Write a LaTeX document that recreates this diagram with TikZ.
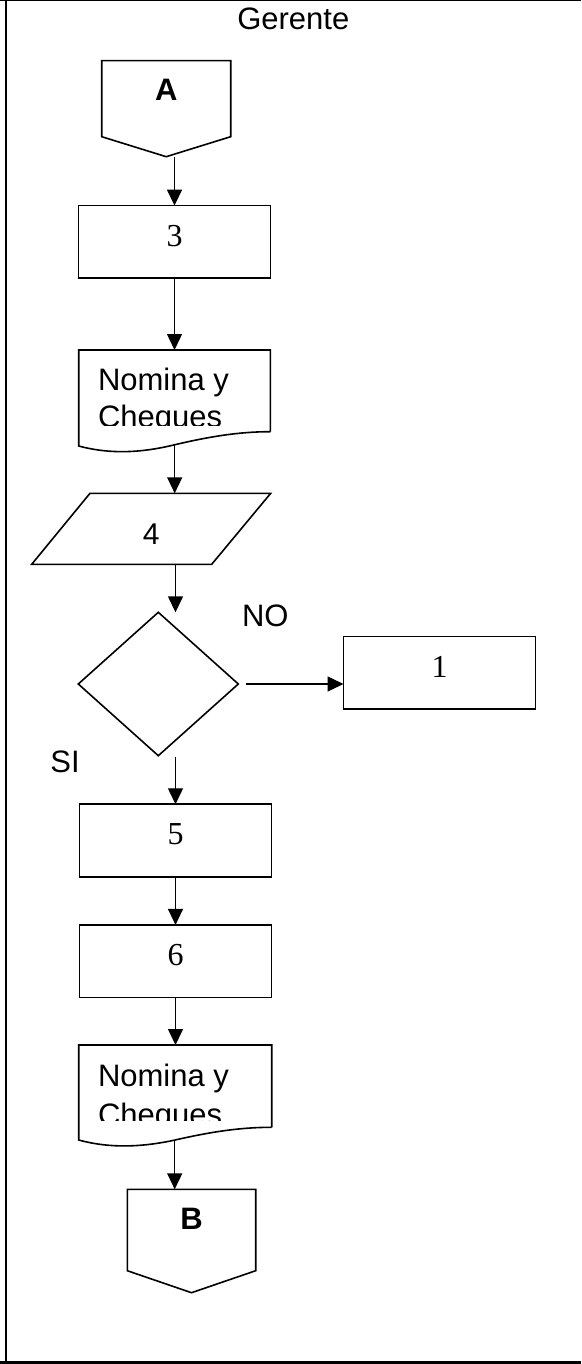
\documentclass[tikz,border=0pt]{standalone}
\usepackage{fontspec}
\setmainfont{Liberation Serif}
\newfontfamily\arialf{Liberation Sans}
\usetikzlibrary{arrows.meta,calc}
\begin{document}
\begin{tikzpicture}[x=1pt,y=-1pt,
  shp/.style={draw=none, inner sep=0pt, outer sep=0pt},
  outline/.style={line width=1.6pt, line join=miter},
  arr/.style={line width=1.4pt, -{Triangle[length=16pt,width=15pt]}},
  procbox/.style={draw, line width=1.7pt, minimum width=192pt, minimum height=72.5pt,
    inner sep=0pt, outer sep=0pt, font=\fontsize{32}{36}\selectfont, text depth=12pt},
  sanslbl/.style={inner sep=0pt, outer sep=0pt, font=\arialf\fontsize{31}{36}\selectfont},
  conn/.style={shp, font=\arialf\bfseries\fontsize{31}{36}\selectfont}
]
\useasboundingbox (0,0) rectangle (581,1364);
\fill[white] (0,0) rectangle (581,1364);

% frame
\draw[line width=1.2pt] (0,0.6) -- (581,0.6);
\draw[line width=2.2pt] (6.2,0) -- (6.2,1364);
\draw[line width=2.6pt] (0,1362.7) -- (581,1362.7);

% title
\node[sanslbl] (ger) at (293.3,18.8) {Gerente};

% connector A
\node[conn, minimum width=129pt, minimum height=76pt, text depth=17.4pt] (A) at (166.2,98.7) {A};
\draw[outline] (A.north west) -- (A.north east) -- (A.south east) -- ($(A.south)+(0,20)$) coordinate (Atip) -- (A.south west) -- cycle;

% box 3
\node[procbox] (b3) at (174.5,241.85) {3};

% document 1
\node[shp, minimum width=191.6pt, minimum height=81.7pt] (D1) at (174.5,390.85) {};
\draw[outline] (D1.south east) -- (D1.north east) -- (D1.north west) -- ($(D1.south west)+(0,14.3)$)
  .. controls ($(D1.south west)+(25,21)$) and ($(D1.south west)+(55,23)$) .. ($(D1.south west)+(95,13.3)$)
  .. controls ($(D1.south west)+(130,5)$) and ($(D1.south west)+(160,0)$) .. (D1.south east);
\coordinate (D1w) at ($(D1.south west)+(96,13.3)$);
\node[sanslbl, anchor=base west] (D1a) at (98,390) {Nomina y};
\begin{scope}
  \clip (D1.north west) rectangle ($(D1.north east)+(0,75)$);
  \node[sanslbl, anchor=base west] (D1b) at (98,427.7) {Cheques};
\end{scope}

% parallelogram 4
\node[shp, minimum width=239pt, minimum height=71pt, font=\arialf\fontsize{30}{36}\selectfont, text height=31.5pt] (P) at (151.2,528.8) {4};
\draw[outline] ($(P.north west)+(58.3,0)$) -- (P.north east) -- ($(P.south east)+(-59,0)$) -- (P.south west) -- cycle;

% decision
\node[shp, minimum width=160pt, minimum height=143.4pt] (Dm) at (158.3,684) {};
\draw[outline] (Dm.north) -- (Dm.east) -- (Dm.south) -- (Dm.west) -- cycle;
\node[sanslbl] (no) at (265.3,615.8) {NO};
\node[sanslbl] (si) at (65,762.2) {SI};

% box 1
\node[procbox] (b1) at (439.5,672.85) {1};

% boxes 5, 6
\node[procbox] (b5) at (175.5,840.5) {5};
\node[procbox] (b6) at (175.5,961.15) {6};

% document 2
\node[shp, minimum width=193pt, minimum height=82.3pt] (D2) at (175.2,1086.15) {};
\draw[outline] (D2.south east) -- (D2.north east) -- (D2.north west) -- ($(D2.south west)+(0,12.7)$)
  .. controls ($(D2.south west)+(25,19.5)$) and ($(D2.south west)+(55,21.5)$) .. ($(D2.south west)+(95,13)$)
  .. controls ($(D2.south west)+(130,5)$) and ($(D2.south west)+(160,0)$) .. (D2.south east);
\coordinate (D2w) at ($(D2.south west)+(96,13)$);
\node[sanslbl, anchor=base west] (D2a) at (98,1086.7) {Nomina y};
\begin{scope}
  \clip (D2.north west) rectangle ($(D2.north east)+(0,75)$);
  \node[sanslbl, anchor=base west] (D2b) at (98,1125) {Cheques};
\end{scope}

% connector B
\node[conn, minimum width=128.4pt, minimum height=81.4pt, text depth=21.6pt] (B) at (191.5,1230) {B};
\draw[outline] (B.north west) -- (B.north east) -- (B.south east) -- ($(B.south)+(0,22)$) coordinate (Btip) -- (B.south west) -- cycle;

% connectors
\draw[arr] (b3.north |- Atip) -- (b3.north);
\draw[arr] (b3.south) -- (D1.north);
\draw[arr] (D1w) -- (D1w |- P.north);
\draw[arr] (b5.north |- P.south) -- (b5.north |- Dm.north);
\draw[arr] ($(Dm.east)+(8,0)$) -- (b1.west |- Dm.east);
\draw[arr] ($(b5.north |- Dm.south)+(0,1)$) -- (b5.north);
\draw[arr] (b5.south) -- (b6.north);
\draw[arr] (b6.south) -- (b6.south |- D2.north);
\draw[arr] (D2w) -- (D2w |- B.north);
\end{tikzpicture}
\end{document}
